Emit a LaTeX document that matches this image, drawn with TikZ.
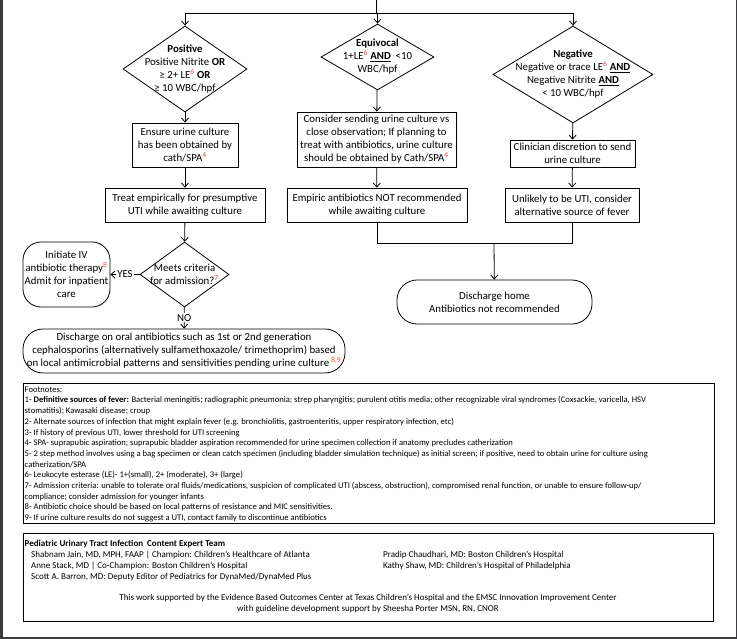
\documentclass[tikz,border=0pt]{standalone}
\usepackage{fontspec}
\setmainfont{Carlito}
\usepackage{xcolor}
\usetikzlibrary{arrows.meta, positioning, shapes.geometric}
\definecolor{notered}{RGB}{232,76,76}
\definecolor{pageedge}{RGB}{58,60,62}
\newcommand{\fnote}[1]{\textsuperscript{\textcolor{notered}{#1}}}

\begin{document}
\begin{tikzpicture}[
        x=1pt, y=-1pt,
        font=\fontsize{10.8}{13}\selectfont,
        box/.style={rectangle, draw, align=center, inner sep=0pt, line width=0.8pt},
        decision/.style={diamond, draw, inner sep=0pt, line width=0.8pt},
        roundbox/.style={rectangle, draw, rounded corners=18pt, align=center, inner sep=0pt, line width=0.8pt},
        line/.style={draw, line width=0.8pt, -{Straight Barb[length=4pt, width=7pt]}},
        plainline/.style={draw, line width=0.8pt},
        notes/.style={align=left, inner sep=0pt, font=\fontsize{8.6}{10.7}\selectfont},
        team/.style={align=left, inner sep=0pt, font=\fontsize{9}{11}\selectfont},
        frame/.style={rectangle, draw, line width=0.8pt, inner sep=0pt, anchor=north west}
    ]
    \useasboundingbox (0,0) rectangle (737,639);

    % page edges
    \fill[pageedge] (0,0) rectangle (2.5,639);
    \fill[pageedge] (735.5,0) rectangle (737,639);
    \fill[pageedge] (0,636.5) rectangle (737,639);

    % decisions
    \node[decision, minimum width=124pt, minimum height=86pt] (pos) at (185,69) {};
    \node[align=center, inner sep=0pt] (pos_text) at (pos) {\textbf{Positive}\\Positive Nitrite \textbf{OR}\\≥ 2+ LE\fnote{6} \textbf{OR}\\≥ 10 WBC/hpf};
    \node[decision, minimum width=113pt, minimum height=66pt] (equiv) at (377.5,57) {};
    \node[align=center, inner sep=0pt] (equiv_text) at (equiv) {\textbf{Equivocal}\\1+LE\fnote{6} \textbf{\underline{AND}}\ \ <10\\WBC/hpf};
    \node[decision, minimum width=160pt, minimum height=97pt] (neg) at (573,74.5) {};
    \node[align=center, inner sep=0pt] (neg_text) at (neg) {\textbf{Negative}\\Negative or trace LE\fnote{6} \textbf{\underline{AND}}\\Negative Nitrite \textbf{\underline{AND}}\\< 10 WBC/hpf};

    % first actions
    \node[box, minimum width=106pt, minimum height=44pt] (ensure) at (185,145) {Ensure urine culture\\has been obtained by\\cath/SPA\fnote{4}};
    \node[box, minimum width=159pt, minimum height=55pt] (consider) at (376.5,139.5) {Consider sending urine culture vs\\close observation; If planning to\\treat with antibiotics, urine culture\\should be obtained by Cath/SPA\fnote{4}};
    \node[box, minimum width=125pt, minimum height=27pt] (clinician) at (572.5,153.5) {Clinician discretion to send\\urine culture};

    % second actions
    \node[box, minimum width=160pt, minimum height=34pt] (treat) at (185,205) {Treat empirically for presumptive\\UTI while awaiting culture};
    \node[box, minimum width=180pt, minimum height=34pt] (empiric) at (377,205) {Empiric antibiotics NOT recommended\\while awaiting culture};
    \node[box, minimum width=134pt, minimum height=34pt] (unlikely) at (572,205) {Unlikely to be UTI, consider\\alternative source of fever};

    % admission
    \node[decision, minimum width=89pt, minimum height=65pt] (admit) at (184.5,274.5) {};
    \node[align=center, inner sep=0pt] (admit_text) at (admit) {Meets criteria\\for admission?\fnote{7}};
    \node[roundbox, minimum width=87pt, minimum height=65pt] (iv) at (66.5,274.5) {Initiate IV\\antibiotic therapy\fnote{8}\\Admit for inpatient\\care};
    \node[roundbox, rounded corners=20pt, minimum width=322pt, minimum height=44pt] (oral) at (184,351) {Discharge on oral antibiotics such as 1st or 2nd generation\\cephalosporins (alternatively sulfamethoxazole/ trimethoprim) based\\on local antimicrobial patterns and sensitivities pending urine culture\,\fnote{8,9}};
    \node[roundbox, rounded corners=20pt, minimum width=195pt, minimum height=44pt] (home) at (494.5,302) {Discharge home\\Antibiotics not recommended};

    % connections
    \coordinate (start) at (376,0);
    \coordinate (split) at (376,13);
    \coordinate (merge) at (494,243);
    \path [plainline] (start) -- (split);
    \path [plainline] (pos|-split) -- (neg|-split);
    \path [line] (pos|-split) -- (pos);
    \path [line] (equiv|-split) -- (equiv);
    \path [line] (neg|-split) -- (neg);
    \path [line] (pos) -- (ensure);
    \path [line] (equiv) -- (consider);
    \path [line] (neg) -- (clinician);
    \path [line] (ensure) -- (treat);
    \path [line] (consider) -- (empiric);
    \path [line] (clinician) -- (unlikely);
    \path [line] (treat) -- (admit);
    \path [line] (admit) -- node[fill=white, inner sep=1pt] (yes_label) {YES} (iv);
    \path [line] (admit) -- node[fill=white, inner sep=1pt] (no_label) {NO} (oral);
    \path [plainline] (empiric) -- (empiric|-merge) -- (unlikely|-merge) -- (unlikely);
    \path [line] (merge) -- (home);

    % footnotes
    \node[frame, minimum width=691pt, minimum height=140pt] (notes_box) at (23,383) {};
    \node[notes, anchor=north west] (notes_text) at (24.5,386.5) {Footnotes:\\
        1- \textbf{Definitive sources of fever:} Bacterial meningitis; radiographic pneumonia; strep pharyngitis; purulent otitis media; other recognizable viral syndromes (Coxsackie, varicella, HSV\\
        stomatitis); Kawasaki disease; croup\\
        2- Alternate sources of infection that might explain fever (e.g. bronchiolitis, gastroenteritis, upper respiratory infection, etc)\\
        3- If history of previous UTI, lower threshold for UTI screening\\
        4- SPA- suprapubic aspiration; suprapubic bladder aspiration recommended for urine specimen collection if anatomy precludes catherization\\
        5- 2 step method involves using a bag specimen or clean catch specimen (including bladder simulation technique) as initial screen; if positive, need to obtain urine for culture using\\
        catherization/SPA\\
        6- Leukocyte esterase (LE)- 1+(small), 2+ (moderate), 3+ (large)\\
        7- Admission criteria: unable to tolerate oral fluids/medications, suspicion of complicated UTI (abscess, obstruction), compromised renal function, or unable to ensure follow-up/\\
        compliance; consider admission for younger infants\\
        8- Antibiotic choice should be based on local patterns of resistance and MIC sensitivities.\\
        9- If urine culture results do not suggest a UTI, contact family to discontinue antibiotics};

    % team
    \node[frame, minimum width=690pt, minimum height=88pt] (team_box) at (23,533) {};
    \node[team, anchor=north west] (team_title) at (24.5,540) {\textbf{Pediatric Urinary Tract Infection\ \ Content Expert Team}};
    \node[team, anchor=north west] (team_left) at (31,551) {Shabnam Jain, MD, MPH, FAAP | Champion: Children’s Healthcare of Atlanta\\
        Anne Stack, MD | Co-Champion: Boston Children’s Hospital\\
        Scott A. Barron, MD: Deputy Editor of Pediatrics for DynaMed/DynaMed Plus};
    \node[team, anchor=north west] (team_right) at (383,551) {Pradip Chaudhari, MD: Boston Children’s Hospital\\
        Kathy Shaw, MD: Children’s Hospital of Philadelphia};
    \node[team, align=center, anchor=north] (support) at (368,594) {This work supported by the Evidence Based Outcomes Center at Texas Children’s Hospital and the EMSC Innovation Improvement Center\\
        with guideline development support by Sheesha Porter MSN, RN, CNOR};
\end{tikzpicture}
\end{document}
